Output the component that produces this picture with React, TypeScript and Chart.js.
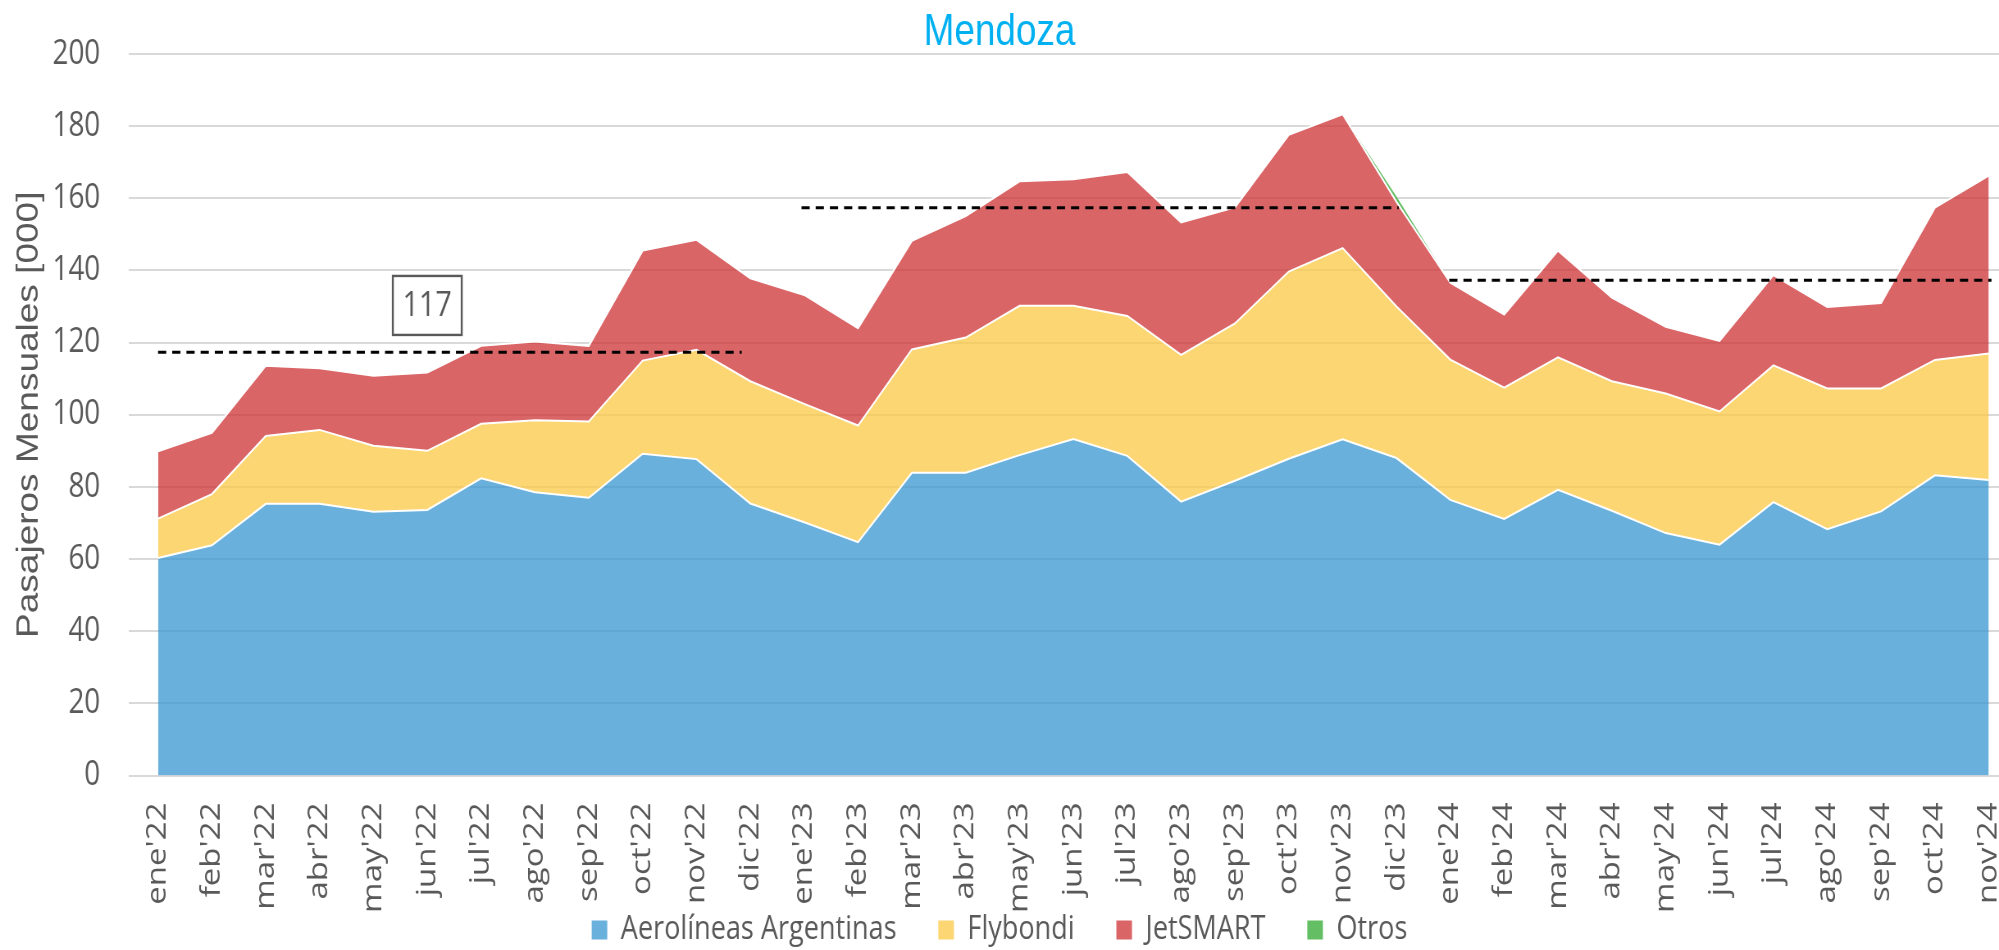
import React, { useEffect, useRef } from "react";
import { Chart, registerables } from "chart.js";

Chart.register(...registerables);

// ---- data (thousands of monthly passengers) ----
const months = [
  "ene'22", "feb'22", "mar'22", "abr'22", "may'22", "jun'22", "jul'22", "ago'22", "sep'22", "oct'22", "nov'22", "dic'22",
  "ene'23", "feb'23", "mar'23", "abr'23", "may'23", "jun'23", "jul'23", "ago'23", "sep'23", "oct'23", "nov'23", "dic'23",
  "ene'24", "feb'24", "mar'24", "abr'24", "may'24", "jun'24", "jul'24", "ago'24", "sep'24", "oct'24", "nov'24",
];

const aerolineas = [
  60.3, 63.8, 75.3, 75.3, 73.1, 73.6, 82.4, 78.5, 77.0, 89.2, 87.7, 75.4,
  70.2, 64.7, 83.9, 83.9, 88.8, 93.3, 88.6, 75.9, 81.7, 87.8, 93.2, 88.0,
  76.4, 71.1, 79.2, 73.4, 67.2, 64.0, 75.8, 68.3, 73.2, 83.2, 81.9,
];
const flybondi = [
  10.9, 14.2, 18.8, 20.5, 18.3, 16.4, 15.1, 20.0, 21.1, 25.8, 30.3, 33.9,
  32.8, 32.3, 34.2, 37.5, 41.4, 36.9, 38.8, 40.7, 43.6, 51.9, 53.0, 42.0,
  38.9, 36.4, 36.7, 35.9, 38.7, 36.9, 37.9, 39.0, 34.1, 32.0, 35.1,
];
const jetsmart = [
  18.7, 17.0, 19.5, 17.1, 19.4, 21.7, 21.6, 21.8, 21.0, 30.5, 30.5, 28.5,
  30.2, 27.0, 30.1, 33.7, 34.5, 35.1, 39.9, 36.7, 32.2, 37.9, 37.1, 29.0,
  21.3, 20.3, 29.6, 23.2, 18.5, 19.6, 25.0, 22.6, 23.7, 42.2, 49.3,
];
const otros = [
  0, 0, 0, 0, 0, 0, 0, 0, 0, 0, 0, 0,
  0, 0, 0, 0, 0, 0, 0, 0, 0, 0, 0, 1.5,
  0, 0, 0, 0, 0, 0, 0, 0, 0, 0, 0,
];

// yearly average reference lines (value, start index, end index)
const avgValues = [117.3, 157.4, 137.3];
const avgStart = [0, 11.95, 23.98];
const avgEnd = [10.84, 23.04, 34.05];
const avgLabelAt = [5, 130.3]; // category index, value for the "117" box

const yTicks = [0, 20, 40, 60, 80, 100, 120, 140, 160, 180, 200];

const SQUISH = 0.82;
const OUT_W = 1999;
const OUT_H = 950;
const IN_W = Math.round(OUT_W / SQUISH);

const GRAY = "#595959";

const toPts = (arr: number[]) => arr.map((v, i) => ({ x: i, y: v }));

const avgLabelPlugin = {
  id: "avgLabel",
  afterDatasetsDraw(chart: any) {
    const { ctx, scales } = chart;
    const px = scales.x.getPixelForValue(avgLabelAt[0]);
    const py = scales.y.getPixelForValue(avgLabelAt[1]);
    const text = String(Math.round(avgValues[0]));
    ctx.save();
    ctx.font = "35px 'Open Sans', sans-serif";
    const w = ctx.measureText(text).width + 24;
    const h = 59;
    ctx.fillStyle = "#ffffff";
    ctx.fillRect(px - w / 2, py - h / 2, w, h);
    ctx.strokeStyle = GRAY;
    ctx.lineWidth = 2.4;
    ctx.strokeRect(px - w / 2, py - h / 2, w, h);
    ctx.fillStyle = GRAY;
    ctx.textAlign = "center";
    ctx.textBaseline = "middle";
    ctx.fillText(text, px, py + 1);
    ctx.restore();
  },
};

export default function App() {
  const ref = useRef<HTMLCanvasElement | null>(null);

  useEffect(() => {
    document.body.style.margin = "0";
    const canvas = ref.current;
    if (!canvas) return;

    const area = (label: string, data: number[], color: string, fill: any, bw: number) => ({
      label,
      data: toPts(data),
      backgroundColor: color,
      borderColor: "#ffffff",
      borderWidth: bw,
      fill,
      pointRadius: 0,
      pointHoverRadius: 0,
      tension: 0,
      order: 1,
    });

    const avgSets = avgValues.map((v, i) => ({
      label: "avg" + i,
      data: [
        { x: avgStart[i], y: v },
        { x: avgEnd[i], y: v },
      ],
      borderColor: "#000000",
      borderWidth: 3,
      borderDash: [10, 7.3],
      fill: false,
      pointRadius: 0,
      pointHoverRadius: 0,
      stack: "avg" + i,
      order: 0,
    }));

    const chart = new Chart(canvas, {
      type: "line",
      data: {
        datasets: [
          area("Aerolíneas Argentinas", aerolineas, "rgba(55,150,208,0.75)", "origin", 2),
          area("Flybondi", flybondi, "rgba(251,200,67,0.75)", "-1", 2),
          area("JetSMART", jetsmart, "rgba(206,50,52,0.75)", "-1", 2),
          area("Otros", otros, "rgba(48,168,48,0.75)", "-1", 0),
          ...avgSets,
        ] as any,
      },
      options: {
        responsive: false,
        animation: false,
        devicePixelRatio: 1,
        layout: { padding: { top: 0, left: 0, right: 0, bottom: -6.5 } },
        events: [],
        scales: {
          x: {
            type: "linear",
            min: -0.54,
            max: 34.19,
            afterBuildTicks: (s: any) => {
              s.ticks = months.map((_, i) => ({ value: i }));
            },
            afterFit: (s: any) => {
              s.height = 87;
              s.paddingLeft = 0;
              s.paddingRight = 0;
              // let the rotated month labels overflow the axis box (as in the source chart)
              s._computeLabelArea = () => undefined;
            },
            ticks: {
              autoSkip: false,
              minRotation: 90,
              maxRotation: 90,
              padding: 27,
              color: GRAY,
              font: { family: "'Open Sans', sans-serif", size: 33 },
              callback: (v: any) => months[v as number] ?? "",
            },
            grid: { display: false, drawTicks: false },
            border: { display: false },
          },
          y: {
            stacked: true,
            min: 0,
            max: 200,
            afterBuildTicks: (s: any) => {
              s.ticks = yTicks.map((v) => ({ value: v }));
            },
            afterFit: (s: any) => {
              s.width = 157.3;
              s.paddingTop = 0;
              s.paddingBottom = 0;
            },
            ticks: {
              padding: 35,
              color: GRAY,
              font: { family: "'Open Sans', sans-serif", size: 34 },
            },
            grid: { color: "#D9D9D9", lineWidth: 2, drawTicks: false },
            border: { display: false },
            title: {
              display: true,
              text: "Pasajeros Mensuales [000]",
              color: GRAY,
              font: { family: "'Liberation Sans', Arial, sans-serif", size: 37 },
              padding: { top: 14, bottom: 0 },
            },
          },
        },
        plugins: {
          title: {
            display: true,
            text: "Mendoza",
            color: "#00B0F0",
            font: { family: "'Liberation Sans', Arial, sans-serif", size: 45, weight: "normal", lineHeight: 42 / 45 },
            padding: { top: 12, bottom: 0 },
          },
          legend: {
            position: "bottom",
            labels: {
              boxWidth: 19,
              boxHeight: 19,
              padding: 51,
              color: GRAY,
              font: { family: "'Open Sans', sans-serif", size: 33 },
              generateLabels: (c: any) =>
                (Chart.defaults.plugins.legend.labels as any)
                  .generateLabels(c)
                  .filter((l: any) => l.datasetIndex < 4)
                  .map((l: any) => ({ ...l, lineWidth: 0, strokeStyle: "rgba(0,0,0,0)" })),
            },
          },
          tooltip: { enabled: false },
        },
      },
      plugins: [avgLabelPlugin],
    } as any);

    return () => chart.destroy();
  }, []);

  return (
    <div style={{ width: OUT_W, height: OUT_H, overflow: "hidden", background: "#fff" }}>
      <canvas
        ref={ref}
        width={IN_W}
        height={OUT_H}
        style={{ width: OUT_W + "px", height: OUT_H + "px", display: "block" }}
      />
    </div>
  );
}
